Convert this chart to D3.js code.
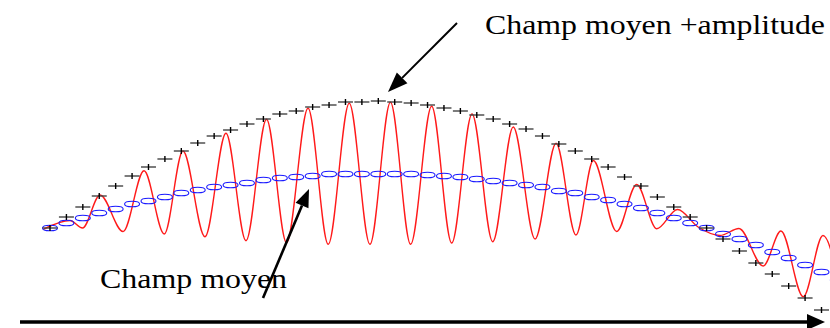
<!DOCTYPE html>
<html>
<head>
<meta charset="utf-8">
<script src="https://cdn.jsdelivr.net/npm/d3@7"></script>
<style>
  html, body { margin: 0; padding: 0; background: #fff; }
  svg { display: block; }
</style>
</head>
<body>
<svg id="chart" width="830" height="328"></svg>
<script>
// Sample stations along the propagation axis (one marker per station)
const sampleZ = [0, 1, 2, 3, 4, 5, 6, 7, 8, 9, 10, 11, 12, 13, 14, 15, 16, 17, 18, 19,
  20, 21, 22, 23, 24, 25, 26, 27, 28, 29, 30, 31, 32, 33, 34, 35, 36, 37, 38, 39,
  40, 41, 42, 43, 44, 45, 46, 47, 48];

// Mean field at each station (blue ellipses)
const meanField = [0.94, 0.99, 1.04, 1.09, 1.13, 1.18, 1.21, 1.25, 1.29, 1.32,
  1.35, 1.37, 1.39, 1.42, 1.44, 1.45, 1.46, 1.48, 1.48, 1.48,
  1.48, 1.48, 1.48, 1.47, 1.46, 1.45, 1.43, 1.41, 1.39, 1.37,
  1.35, 1.31, 1.29, 1.25, 1.22, 1.18, 1.14, 1.09, 1.04, 0.99,
  0.94, 0.88, 0.83, 0.77, 0.70, 0.64, 0.57, 0.50, 0.42];

// Mean field + amplitude at each station (black crosses)
const peakField = [0.94, 1.05, 1.15, 1.26, 1.36, 1.46, 1.55, 1.63, 1.71, 1.79,
  1.86, 1.92, 1.98, 2.03, 2.08, 2.11, 2.15, 2.17, 2.20, 2.20,
  2.21, 2.20, 2.19, 2.17, 2.14, 2.11, 2.07, 2.03, 1.98, 1.93,
  1.86, 1.78, 1.71, 1.63, 1.55, 1.45, 1.36, 1.25, 1.15, 1.05,
  0.94, 0.83, 0.71, 0.59, 0.48, 0.36, 0.24, 0.12, 0.00];

// Oscillating total field: successive crests and troughs (red curve)
const waveZ = [-0.37, 1.22, 1.98, 3.05, 4.45, 5.73, 6.96, 8.10, 9.44, 10.72,
  11.94, 13.19, 14.41, 15.72, 16.95, 18.23, 19.49, 20.74, 21.97, 23.25,
  24.47, 25.71, 26.97, 28.22, 29.55, 30.83, 32.04, 33.10, 34.52, 35.74,
  36.96, 38.23, 39.48, 40.82, 41.97, 43.45, 44.53, 45.89, 47.09, 48.43];
const waveField = [0.93, 1.015, 0.94, 1.27, 0.905, 1.513, 0.88, 1.71, 0.853, 1.887,
  0.813, 2.027, 0.793, 2.137, 0.777, 2.187, 0.777, 2.197, 0.777, 2.157,
  0.79, 2.08, 0.803, 1.95, 0.83, 1.787, 0.87, 1.615, 0.905, 1.375,
  0.933, 1.125, 0.95, 0.865, 0.935, 0.56, 0.91, 0.253, 0.865, 0.0];

// Annotation texts
const labelTexts = ["Champ moyen +amplitude", "Champ moyen"];

const W = 830, H = 328;
const svg = d3.select("#chart");
svg.append("rect").attr("width", W).attr("height", H).attr("fill", "#fff");

const x = d3.scaleLinear().domain([0, 47]).range([50, 821.5]);
const y = d3.scaleLinear().domain([0, 3.22]).range([322, 0]);

// Red oscillating field
const wavePts = waveZ.map((z, i) => [z, waveField[i]]);
svg.append("path")
  .datum(wavePts)
  .attr("fill", "none")
  .attr("stroke", "#ff1a1a")
  .attr("stroke-width", 1.4)
  .attr("d", d3.line().x(d => x(d[0])).y(d => y(d[1])).curve(d3.curveMonotoneX));

// Mean field markers: flattened blue ellipses
svg.append("g").selectAll("ellipse")
  .data(sampleZ.map((z, i) => ({ z, v: meanField[i] })))
  .join("ellipse")
  .attr("cx", d => x(d.z))
  .attr("cy", d => y(d.v))
  .attr("rx", 7.5)
  .attr("ry", 2.8)
  .attr("fill", "none")
  .attr("stroke", "#1a1aff")
  .attr("stroke-width", 1.1);

// Mean + amplitude markers: wide crosses
const cross = svg.append("g").selectAll("g")
  .data(sampleZ.map((z, i) => ({ z, v: peakField[i] })))
  .join("g")
  .attr("transform", d => `translate(${x(d.z)},${y(d.v)})`);
cross.append("line")
  .attr("x1", -7.5).attr("x2", 7.5).attr("y1", 0).attr("y2", 0)
  .attr("stroke", "#444").attr("stroke-width", 1.4);
cross.append("line")
  .attr("x1", 0).attr("x2", 0).attr("y1", -3).attr("y2", 3)
  .attr("stroke", "#000").attr("stroke-width", 1.4);

// Arrow helper: shaft plus filled triangular head
function arrow(x1, y1, x2, y2, width, headLen, headHalf) {
  const a = Math.atan2(y2 - y1, x2 - x1);
  const bx = x2 - headLen * Math.cos(a), by = y2 - headLen * Math.sin(a);
  svg.append("line")
    .attr("x1", x1).attr("y1", y1).attr("x2", bx).attr("y2", by)
    .attr("stroke", "#000").attr("stroke-width", width);
  const px = -Math.sin(a) * headHalf, py = Math.cos(a) * headHalf;
  svg.append("path")
    .attr("d", `M${x2},${y2}L${bx + px},${by + py}L${bx - px},${by - py}Z`)
    .attr("fill", "#000");
}

// Propagation axis
arrow(20, 322, 825, 322, 3.5, 18, 8);
// Pointer to the upper envelope
arrow(457, 23, 388, 92, 2, 20, 7.5);
// Pointer to the mean field
arrow(263, 298, 309, 189, 2.6, 18, 7);

// Labels (Times-like serif, slightly widened)
svg.append("text")
  .attr("x", 485).attr("y", 34)
  .attr("font-family", "'Liberation Serif', 'Times New Roman', serif")
  .attr("font-size", 28)
  .attr("textLength", 340)
  .attr("lengthAdjust", "spacingAndGlyphs")
  .attr("fill", "#000")
  .text(labelTexts[0]);
svg.append("text")
  .attr("x", 100).attr("y", 288)
  .attr("font-family", "'Liberation Serif', 'Times New Roman', serif")
  .attr("font-size", 28)
  .attr("textLength", 187)
  .attr("lengthAdjust", "spacingAndGlyphs")
  .attr("fill", "#000")
  .text(labelTexts[1]);
</script>
</body>
</html>
